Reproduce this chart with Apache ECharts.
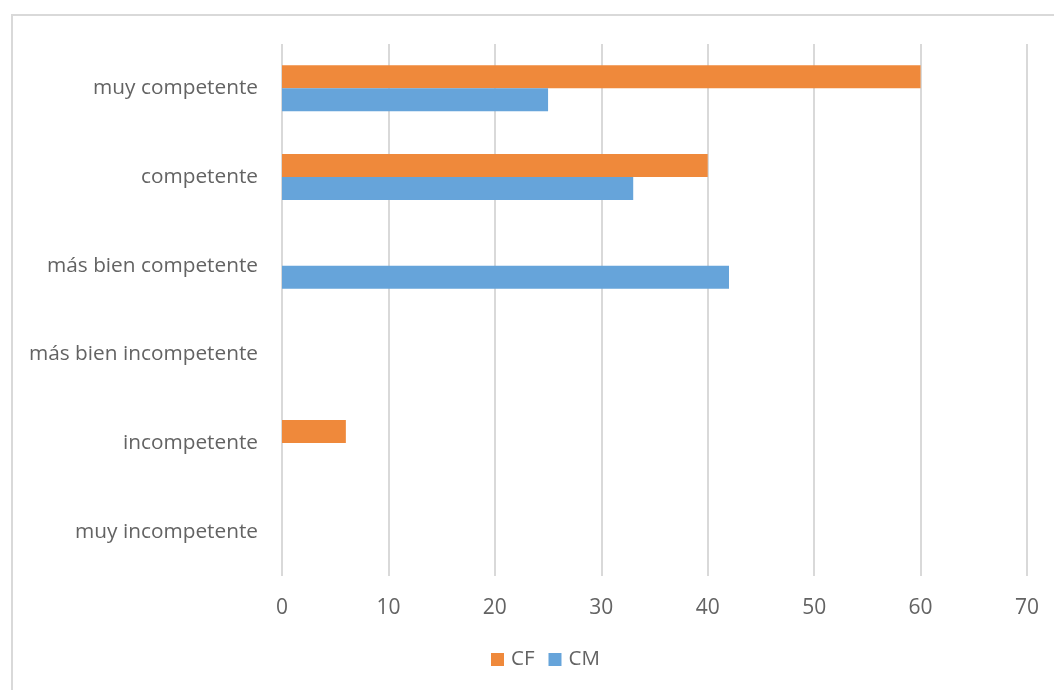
<!DOCTYPE html>
<html>
<head>
<meta charset="utf-8">
<script src="https://cdn.jsdelivr.net/npm/echarts@6/dist/echarts.min.js"></script>
<style>
  html, body { margin: 0; padding: 0; background: #fff; }
  #chart { width: 1054px; height: 690px; }
</style>
</head>
<body>
<div id="chart"></div>
<script>
// Rating categories, bottom to top on the vertical axis
const categories = ['muy incompetente', 'incompetente', 'más bien incompetente', 'más bien competente', 'competente', 'muy competente'];
// Percentages per group
const cfValues = [0, 6, 0, 0, 40, 60];
const cmValues = [0, 0, 0, 42, 33, 25];
const valueTicks = { min: 0, max: 70, interval: 10 };

const chart = echarts.init(document.getElementById('chart'));
const textColor = '#636363';
const font = '"Open Sans", sans-serif';

chart.setOption({
  animation: false,
  textStyle: { fontFamily: font },
  graphic: [{
    type: 'rect',
    shape: { x: 12, y: 15, width: 1100, height: 700 },
    style: { fill: 'none', stroke: '#d9d9d9', lineWidth: 2 },
    silent: true
  }],
  grid: { left: 282, right: 27, top: 44, bottom: 114 },
  legend: {
    data: ['CF', 'CM'],
    bottom: 15,
    left: 486,
    itemWidth: 13,
    itemHeight: 13,
    itemGap: 14,
    icon: 'rect',
    textStyle: { color: textColor, fontSize: 20.5, fontFamily: font, padding: [0, 0, 0, 2] }
  },
  xAxis: {
    type: 'value',
    min: valueTicks.min,
    max: valueTicks.max,
    interval: valueTicks.interval,
    axisLine: { show: false },
    axisTick: { show: false },
    axisLabel: { color: textColor, fontSize: 21, margin: 22, fontFamily: font },
    splitLine: { lineStyle: { color: '#d9d9d9', width: 2 } }
  },
  yAxis: {
    type: 'category',
    data: categories,
    axisLine: { show: false },
    axisTick: { show: false },
    axisLabel: { color: textColor, fontSize: 20.8, margin: 24, fontFamily: font }
  },
  series: [
    {
      name: 'CF', type: 'bar', data: cfValues,
      barWidth: 23, barGap: '0%',
      itemStyle: { color: '#EF893B' }
    },
    {
      name: 'CM', type: 'bar', data: cmValues,
      barWidth: 23, barGap: '0%',
      itemStyle: { color: '#66A4DA' }
    }
  ]
});
</script>
</body>
</html>
